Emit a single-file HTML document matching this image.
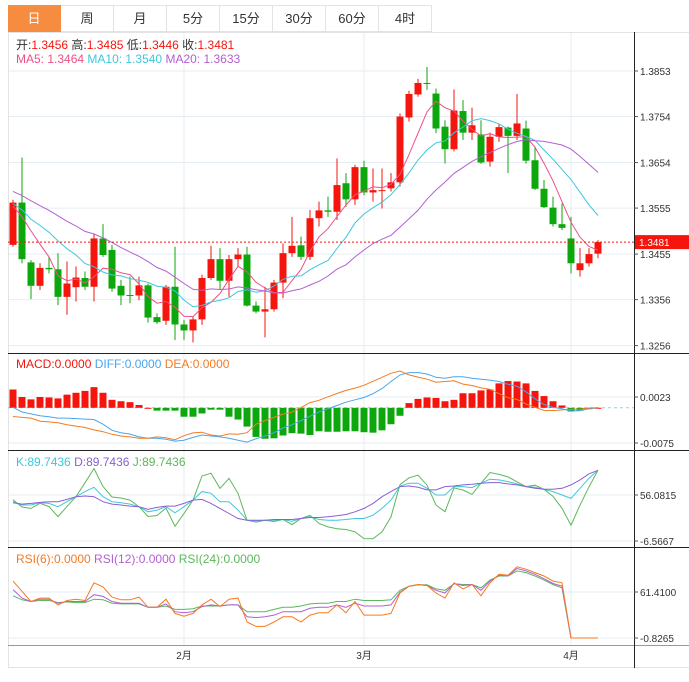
<!DOCTYPE html>
<html><head><meta charset="utf-8">
<style>
body{margin:0;background:#fff;width:689px;height:682px;overflow:hidden;font-family:"Liberation Sans","Noto Sans CJK SC",sans-serif}
svg{position:absolute;left:0;top:0}
.tab{position:absolute;top:5px;height:27px;width:53px;box-sizing:border-box;border-right:1px solid #e3e3e3;border-top:1px solid #e3e3e3;border-bottom:1px solid #e3e3e3;text-align:center;line-height:26px;font-size:13px;color:#333;background:#fff}
.tab.on{background:#f58c40;color:#fff;border-color:#f58c40}
</style></head><body>
<div>
<div class="tab on" style="left:8px">日</div>
<div class="tab" style="left:61px">周</div>
<div class="tab" style="left:114px">月</div>
<div class="tab" style="left:167px">5分</div>
<div class="tab" style="left:220px">15分</div>
<div class="tab" style="left:273px">30分</div>
<div class="tab" style="left:326px">60分</div>
<div class="tab" style="left:379px">4时</div>
</div>
<svg id="c" width="689" height="682"></svg>
<script>
const opens=[1.3475,1.3567,1.3437,1.3386,1.3425,1.3422,1.3362,1.3383,1.3403,1.3384,1.3489,1.3464,1.3386,1.3366,1.3365,1.3387,1.3318,1.3310,1.3384,1.3302,1.3289,1.3313,1.3403,1.3444,1.3397,1.3444,1.3454,1.3343,1.3330,1.3335,1.3393,1.3457,1.3474,1.3449,1.3533,1.3550,1.3547,1.3609,1.3574,1.3644,1.3589,1.3593,1.3598,1.3611,1.3752,1.3802,1.3827,1.3804,1.3732,1.3683,1.3766,1.3719,1.3715,1.3656,1.3710,1.3730,1.3712,1.3728,1.3659,1.3597,1.3556,1.3520,1.3489,1.3420,1.3435,1.3456];
const highs=[1.3573,1.3665,1.3442,1.3435,1.3449,1.3457,1.3439,1.3428,1.3417,1.3500,1.3520,1.3475,1.3399,1.3406,1.3406,1.3391,1.3326,1.3388,1.3471,1.3312,1.3319,1.3410,1.3473,1.3468,1.3453,1.3468,1.3471,1.3352,1.3384,1.3399,1.3478,1.3536,1.3493,1.3551,1.3569,1.3580,1.3663,1.3631,1.3649,1.3658,1.3641,1.3641,1.3631,1.3761,1.3810,1.3836,1.3862,1.3815,1.3746,1.3813,1.3790,1.3773,1.3746,1.3719,1.3739,1.3732,1.3803,1.3745,1.3689,1.3616,1.3580,1.3565,1.3536,1.3468,1.3468,1.3485];
const lows=[1.3471,1.3435,1.3357,1.3377,1.3413,1.3344,1.3323,1.3352,1.3377,1.3352,1.3449,1.3373,1.3344,1.3348,1.3355,1.3306,1.3303,1.3301,1.3268,1.3268,1.3263,1.3301,1.3399,1.3377,1.3362,1.3428,1.3341,1.3326,1.3274,1.3330,1.3359,1.3449,1.3442,1.3442,1.3515,1.3536,1.3529,1.3558,1.3562,1.3583,1.3569,1.3554,1.3591,1.3602,1.3743,1.3797,1.3812,1.3718,1.3652,1.3678,1.3703,1.3703,1.3651,1.3645,1.3699,1.3631,1.3703,1.3652,1.3594,1.3555,1.3515,1.3507,1.3413,1.3406,1.3428,1.3446];
const closes=[1.3567,1.3444,1.3386,1.3425,1.3422,1.3362,1.3391,1.3404,1.3384,1.3489,1.3453,1.3380,1.3365,1.3365,1.3387,1.3317,1.3307,1.3384,1.3302,1.3289,1.3313,1.3403,1.3444,1.3397,1.3444,1.3454,1.3343,1.3330,1.3335,1.3393,1.3457,1.3473,1.3449,1.3533,1.3550,1.3547,1.3605,1.3574,1.3644,1.3589,1.3594,1.3594,1.3611,1.3754,1.3803,1.3827,1.3825,1.3728,1.3683,1.3767,1.3719,1.3735,1.3654,1.3710,1.3731,1.3712,1.3739,1.3658,1.3597,1.3557,1.3520,1.3512,1.3435,1.3435,1.3455,1.3481];
const priorCloses=[1.3630,1.3610,1.3640,1.3620,1.3600,1.3630,1.3610,1.3620,1.3600,1.3620,1.3580,1.3590,1.3560,1.3570,1.3550,1.3560,1.3540,1.3570,1.3560];
const macdHist=[0.0039,0.0023,0.0018,0.0023,0.0022,0.0020,0.0028,0.0032,0.0036,0.0044,0.0032,0.0017,0.0014,0.0012,0.0006,0,-0.0006,-0.0006,-0.0006,-0.0019,-0.0019,-0.0012,-0.0004,-0.0004,-0.0019,-0.0025,-0.0040,-0.0062,-0.0066,-0.0065,-0.0059,-0.0054,-0.0055,-0.0058,-0.0050,-0.0051,-0.0051,-0.0050,-0.0050,-0.0052,-0.0053,-0.0048,-0.0035,-0.0017,0.0010,0.0019,0.0022,0.0021,0.0014,0.0017,0.0031,0.0031,0.0037,0.0039,0.0052,0.0057,0.0056,0.0052,0.0036,0.0025,0.0014,0.0005,-0.0008,-0.0006,-0.0003,0];
const macdDiff=[0.0001,-0.0009,-0.0013,-0.0017,-0.0019,-0.0022,-0.0022,-0.0023,-0.0024,-0.0025,-0.0035,-0.0048,-0.0053,-0.0056,-0.0062,-0.0065,-0.0065,-0.0067,-0.0071,-0.0069,-0.0063,-0.0058,-0.0060,-0.0062,-0.0065,-0.0069,-0.0073,-0.0066,-0.0060,-0.0053,-0.0043,-0.0036,-0.0027,-0.0018,-0.0009,-0.0002,0.0005,0.0012,0.0017,0.0022,0.0030,0.0041,0.0056,0.0070,0.0075,0.0075,0.0072,0.0065,0.0063,0.0066,0.0066,0.0063,0.0061,0.0059,0.0056,0.0050,0.0046,0.0034,0.0019,0.0007,0.0001,-0.0002,-0.0007,-0.0006,-0.0002,0];
const kdjK=[46.9,42.4,42.4,45.6,44.7,40.1,46.9,53.8,60.7,66.6,53.8,46.9,45.6,43.7,40.1,33.2,35.5,40.1,31.8,40.1,49.2,60.7,58.4,46.9,46.9,35.5,21.8,20.9,21.8,21.8,22.7,20.4,24.1,26.4,22.7,21.8,21.8,22.7,24.1,24.1,28.6,37.8,49.2,68.4,72.1,72.1,65.2,56.1,56.1,67.5,67.5,66.1,72.1,77.6,76.7,74.4,71.2,67.5,66.6,63.9,60.7,56.1,51.5,65.2,79.0,89.7];
const kdjD=[45.6,43.7,44.7,46.0,46.9,46.9,50.1,53.8,54.7,53.8,46.9,43.7,42.4,41.0,40.1,36.4,39.2,41.0,41.0,44.7,49.2,50.1,44.7,37.8,30.9,24.1,21.8,21.8,21.8,22.7,22.7,22.7,24.1,25.4,25.4,26.4,27.7,29.5,33.2,37.8,44.7,53.8,60.7,67.5,68.4,66.6,63.0,63.0,67.5,68.4,69.8,70.7,72.1,73.0,73.0,71.2,69.8,67.5,65.2,63.9,63.9,65.2,69.8,76.7,84.9,89.7];
const rsi6=[76.2,62.3,48.5,53.1,53.1,43.9,49.9,51.7,49.9,73.9,68.3,54.5,50.8,50.8,54.5,40.7,40.7,51.7,32.4,28.7,32.4,43.9,51.7,41.6,51.7,53.1,20.8,14.8,14.8,20.8,27.8,27.8,20.8,30.1,33.3,33.3,43.9,33.3,48.5,30.1,30.1,30.1,32.4,60.0,69.3,71.6,70.2,60.0,53.1,73.9,65.6,71.6,56.3,73.9,85.4,84.0,95.5,92.3,87.7,83.1,76.2,73.9,-0.8,-0.8,-0.8,-0.8];
const rsi12=[64.6,53.1,48.5,51.7,51.7,46.2,48.5,48.5,48.5,57.7,55.4,48.5,46.2,46.2,46.2,40.7,40.7,45.3,34.7,33.3,34.7,41.6,43.9,42.5,43.9,43.9,27.8,26.8,27.8,30.1,34.7,34.7,34.7,39.3,40.7,40.7,43.9,40.7,46.2,42.5,42.5,42.5,43.9,61.0,69.3,71.1,70.2,63.7,60.0,72.9,70.2,71.6,63.7,76.2,84.0,83.1,93.2,90.0,85.4,79.4,72.9,69.3,-0.8,-0.8,-0.8,-0.8];
const rsi24=[56.3,50.8,48.5,49.9,49.9,47.1,48.0,47.1,47.1,51.7,50.8,46.2,45.3,45.3,45.3,40.7,40.7,42.5,37.9,37.9,38.8,42.5,42.5,42.5,43.9,43.9,34.7,34.7,34.7,37.9,40.7,40.7,42.5,45.3,46.2,46.2,48.5,48.5,51.7,49.9,49.9,49.9,50.8,63.7,69.3,71.1,71.1,65.6,63.7,72.5,71.6,71.6,66.9,77.5,83.1,83.1,90.0,87.7,83.1,77.5,71.6,66.9,-0.8,-0.8,-0.8,-0.8];
const priceTicks=[1.3853,1.3754,1.3654,1.3555,1.3455,1.3356,1.3256];
const monthLabels=["2月","3月","4月"];
const monthIdx=[19,39,62];
const macdTicks=[0.0023,-0.0075];
const kdjTicks=[56.0815,-6.5667];
const rsiTicks=[61.41,-0.8265];

const S=document.getElementById('c');const NS='http://www.w3.org/2000/svg';
function el(t,a,p){const e=document.createElementNS(NS,t);for(const k in a)e.setAttribute(k,a[k]);(p||S).appendChild(e);return e;}
const N=closes.length;
const X=i=>13+i*9;
const yP=p=>71+(1.3853-p)*4600;
const yM=v=>407.8-v*4694;
const yK=v=>495+(56.0815-v)*0.734;
const yR=v=>592+(61.41-v)*0.739;
const AX=634;
for(const t of priceTicks){const l=el('line',{x1:8,x2:AX,y1:yP(t),y2:yP(t),stroke:'#e6edf2'});}
for(const t of macdTicks){el('line',{x1:8,x2:AX,y1:yM(t),y2:yM(t),stroke:'#e6edf2'});}
for(const t of kdjTicks){el('line',{x1:8,x2:AX,y1:yK(t),y2:yK(t),stroke:'#e6edf2'});}
for(const t of rsiTicks){el('line',{x1:8,x2:AX,y1:yR(t),y2:yR(t),stroke:'#e6edf2'});}
monthIdx.forEach((m,j)=>{el('line',{x1:X(m),x2:X(m),y1:32,y2:645,stroke:'#e6edf2'});
 const t=el('text',{x:X(m),y:659,'font-size':10,fill:'#333','text-anchor':'middle'});t.textContent=monthLabels[j];
 });
el('line',{x1:8,x2:689,y1:32.5,y2:32.5,stroke:'#e3e3e3'});
el('line',{x1:8.5,x2:8.5,y1:32,y2:668,stroke:'#e3e3e3'});
el('line',{x1:8,x2:689,y1:667.5,y2:667.5,stroke:'#e3e3e3'});
[353,450,547].forEach(y=>el('line',{x1:8,x2:689,y1:y+.5,y2:y+.5,stroke:'#222'}));
el('line',{x1:8,x2:689,y1:645.5,y2:645.5,stroke:'#999'});
el('line',{x1:AX+.5,x2:AX+.5,y1:32,y2:668,stroke:'#222'});
function axisLab(y,txt,name){el('line',{x1:AX,x2:AX+4,y1:y,y2:y,stroke:'#555'});const t=el('text',{x:AX+6,y:y+4,'font-size':10,fill:'#333'});t.textContent=txt;}
priceTicks.forEach(t=>axisLab(yP(t),t.toFixed(4),'price-tick'));
macdTicks.forEach(t=>axisLab(yM(t),t.toFixed(4),'macd-tick'));
kdjTicks.forEach(t=>axisLab(yK(t),t.toFixed(4),'kdj-tick'));
rsiTicks.forEach(t=>axisLab(yR(t),t.toFixed(4),'rsi-tick'));
const RED='#f5150c',GRN='#0ca70c';
for(let i=0;i<N;i++){const up=closes[i]>=opens[i];const c=up?RED:GRN;const g=el('g',{});
 
 el('line',{x1:X(i),x2:X(i),y1:yP(highs[i]),y2:yP(lows[i]),stroke:c},g);
 const t=Math.min(yP(opens[i]),yP(closes[i])),b=Math.max(yP(opens[i]),yP(closes[i]));
 el('rect',{x:X(i)-3.5,y:t,width:7,height:Math.max(1,b-t),fill:c},g);}
function line(vals,yf,col,name){let d='';vals.forEach((v,i)=>{if(v==null)return;d+=(d?'L':'M')+X(i).toFixed(1)+' '+yf(v).toFixed(1);});const p=el('path',{d:d,fill:'none',stroke:col,'stroke-width':1});return p;}
const all=priorCloses.concat(closes),P=priorCloses.length;
function ma(n){return closes.map((c,i)=>{const j=i+P;const s=all.slice(Math.max(0,j-n+1),j+1);return s.reduce((a,b)=>a+b,0)/s.length;});}
line(ma(5),yP,'#ee4f86','ma5-line');line(ma(10),yP,'#3fc6dc','ma10-line');line(ma(20),yP,'#b45fd2','ma20-line');
const lp=closes[N-1];
el('line',{x1:8,x2:AX,y1:yP(lp),y2:yP(lp),stroke:RED,'stroke-dasharray':'2,2'});
el('rect',{x:AX+1,y:yP(lp)-7,width:55,height:14,fill:RED});
const lt=el('text',{x:AX+5,y:yP(lp)+4,'font-size':10,fill:'#fff'});lt.textContent=lp.toFixed(4);

// MACD
const macdDea=macdDiff.map((d,i)=>d-macdHist[i]/2);
el('line',{x1:8,x2:AX,y1:yM(0),y2:yM(0),stroke:'#9ccbe8','stroke-dasharray':'3,3'});
macdHist.forEach((h,i)=>{const r=el('rect',{x:X(i)-3.5,y:Math.min(yM(0),yM(h)),width:7,height:Math.max(1,Math.abs(yM(h)-yM(0))),fill:h>=0?RED:GRN});
 });
line(macdDiff,yM,'#4aa6ee','diff-line');line(macdDea,yM,'#f57a22','dea-line');
// KDJ
const kdjJ=kdjK.map((k,i)=>3*k-2*kdjD[i]);
line(kdjJ,yK,'#5cb85c','j-line');line(kdjK,yK,'#3fc6dc','k-line');line(kdjD,yK,'#8a5fd2','d-line');
// RSI
line(rsi24,yR,'#5cb85c','rsi24-line');line(rsi12,yR,'#b45fd2','rsi12-line');line(rsi6,yR,'#f57a22','rsi6-line');
function leg(x,y,parts,name){const t=el('text',{x:x,y:y,'font-size':12});
 parts.forEach(([s,c])=>{const sp=el('tspan',{fill:c},t);sp.textContent=s;});}
leg(16,49,[['开:','#333'],['1.3456  ','#f5150c'],['高:','#333'],['1.3485  ','#f5150c'],['低:','#333'],['1.3446  ','#f5150c'],['收:','#333'],['1.3481','#f5150c']],'ohlc-legend');
leg(16,63,[['MA5: 1.3464  ','#ee4f86'],['MA10: 1.3540  ','#3fc6dc'],['MA20: 1.3633','#b45fd2']],'ma-legend');
leg(16,368,[['MACD:0.0000  ','#f5150c'],['DIFF:0.0000  ','#4aa6ee'],['DEA:0.0000','#f57a22']],'macd-legend');
leg(16,466,[['K:89.7436  ','#3fc6dc'],['D:89.7436  ','#8a5fd2'],['J:89.7436','#5cb85c']],'kdj-legend');
leg(16,563,[['RSI(6):0.0000  ','#f57a22'],['RSI(12):0.0000  ','#b45fd2'],['RSI(24):0.0000','#5cb85c']],'rsi-legend');
</script>
</body></html>
